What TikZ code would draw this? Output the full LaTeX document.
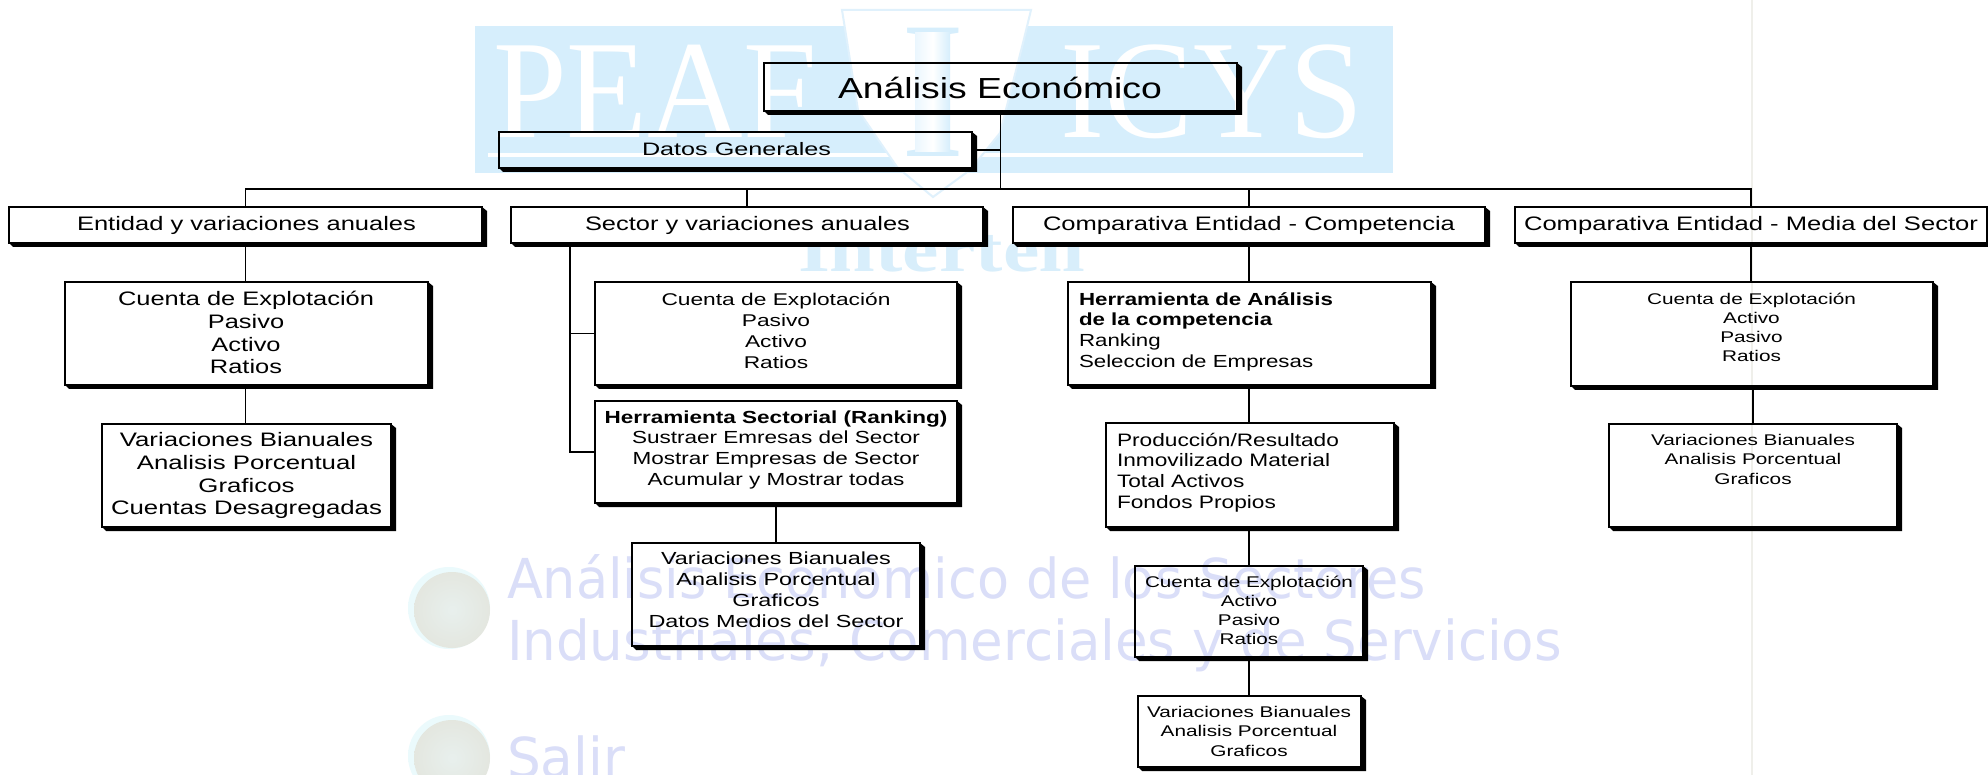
\documentclass[tikz,border=0pt]{standalone}
\usepackage{fontspec}
\usepackage{graphicx}
\setmainfont{Liberation Sans}
\newfontfamily\serifw{Liberation Serif}
\newfontfamily\dejav{DejaVu Sans}
\definecolor{wmblue}{HTML}{D6EEFC}
\definecolor{wmline}{HTML}{E0F1FC}
\definecolor{lav}{HTML}{DADEF8}
\definecolor{inter}{HTML}{D8EEFB}
\definecolor{pale}{HTML}{EFEFEA}
\definecolor{balla}{rgb}{0.91,0.94,0.93}
\definecolor{ballb}{rgb}{0.89,0.90,0.87}
\definecolor{ballc}{rgb}{0.90,0.91,0.87}
\definecolor{haloc}{rgb}{0.92,0.98,0.99}
\pgfdeclareradialshading{ball}{\pgfpoint{0bp}{0bp}}{color(0bp)=(balla); color(28bp)=(ballb); color(44bp)=(ballc); color(50bp)=(haloc)}
\pgfdeclareradialshading{halo}{\pgfpoint{0bp}{0bp}}{color(0bp)=(haloc); color(42bp)=(haloc); color(50bp)=(white)}
% text block: size lead target-width centre-x centre-y align lines (px for W, cx, cy)
\newcommand\tx[7]{\begingroup\fontsize{#1}{#2}\selectfont
 \sbox0{\begin{tabular}[c]{@{}#6@{}}#7\end{tabular}}%
 \pgfmathsetmacro\rr{#3*0.5/\the\wd0}%
 \pgfmathsetmacro\dxx{(#4-\cxx)*0.5}%
 \pgfmathsetmacro\dyy{(\cyy-#5)*0.5+(\the\dp0-\the\ht0)/2-0.17*#1}%
 \raisebox{\dyy pt}[0pt][0pt]{\makebox[0pt][c]{\hspace*{2\dimexpr\dxx pt\relax}\scalebox{\rr}[1]{\usebox0}}}%
 \endgroup}
\newcommand\fitw[2]{\sbox0{#2}\pgfmathsetmacro\rr{#1*0.5/\the\wd0}\scalebox{\rr}[1]{\usebox0}}
\newcommand\bx[6]{%
 \pgfmathsetmacro\cxx{(#2+#4)/2}\pgfmathsetmacro\cyy{(#3+#5)/2}%
 \pgfmathsetmacro\ww{(#4-#2)*0.5}\pgfmathsetmacro\hh{(#5-#3)*0.5}%
 \node[boxnode,minimum width=\ww pt,minimum height=\hh pt] (#1) at (\cxx,\cyy) {#6};
 \fill (#1.south west) -- ([shift={(4,4)}]#1.south west) -- ([shift={(5,4)}]#1.south east)
   -- ([shift={(5,4)}]#1.north east) -- (#1.north east) -- (#1.south east) -- cycle;
}
\tikzset{
 boxnode/.style={draw=black,line width=1pt,inner sep=0pt,outer sep=0pt,rectangle},
 conn/.style={draw=black,line width=0.9pt},
 busline/.style={draw=black,line width=0.7pt},
 bg/.style={inner sep=0pt,outer sep=0pt,anchor=base west},
}
\begin{document}
\begin{tikzpicture}[x=0.5pt,y=-0.5pt]
\useasboundingbox (0,0) rectangle (1988,775);
\fill[white] (0,0) rectangle (1988,775);
\fill[pale] (1751,0) rectangle (1753,775);
% logo
\fill[wmblue] (475,26) rectangle (1393,173);
\node[bg,text=white,font=\serifw\fontsize{70}{70}\selectfont] (wm1) at (493,138) {\fitw{324}{PEAF}};
\node[bg,text=white,font=\serifw\fontsize{70}{70}\selectfont] (wm2) at (1060,138) {\fitw{303}{ICYS}};
\fill[white] (488,153) rectangle (1363,157);
\filldraw[fill=white,draw=wmline,line width=1pt] (842,10) -- (1031,10) -- (1023,43) -- (1000,133) -- (970,170) -- (933,197) -- (897,167) -- (858,110) -- cycle;
\node[bg,text=wmblue,font=\serifw\fontsize{98}{98}\selectfont] (wm3) at (900,157) {I};
\shade[left color=wmblue!50!white,right color=wmblue,middle color=white] (915,33) rectangle (950,152);
\node[bg,text=inter,font=\serifw\bfseries\fontsize{32}{32}\selectfont] (wm4) at (798,272) {\fitw{287}{Intertell}};
\fill[white] (511,207) rectangle (983,243);
\fill[white] (1013,207) rectangle (1485,243);
% menu watermark
\shade[shading=halo] (449,608) circle (41);
\shade[shading=ball] (452,610) circle (38);
\shade[shading=halo] (449,756) circle (41);
\shade[shading=ball] (452,758) circle (38);
\node[bg,text=lav,font=\dejav\fontsize{27.5}{27.5}\selectfont] (wm5) at (507,598) {\fitw{919}{Análisis Económico de los Sectores}};
\node[bg,text=lav,font=\dejav\fontsize{27.5}{27.5}\selectfont] (wm6) at (507,660) {\fitw{1055}{Industriales, Comerciales y de Servicios}};
\node[bg,text=lav,font=\dejav\fontsize{27.5}{27.5}\selectfont] (wm7) at (507,777) {\fitw{118}{Salir}};
% boxes
\bx{title}{764}{63}{1237}{111}{\tx{14.5}{17}{324}{1000}{87}{c}{Análisis Económico}}
\bx{datos}{499}{132}{972}{168}{\tx{9}{11}{189}{736.5}{148}{c}{Datos Generales}}
\bx{ent}{9}{207}{482}{243}{\tx{9.75}{11}{339}{246.5}{223}{c}{Entidad y variaciones anuales}}
\bx{sec}{511}{207}{983}{243}{\tx{9.75}{11}{325}{747.5}{223}{c}{Sector y variaciones anuales}}
\bx{comp}{1013}{207}{1485}{243}{\tx{9.75}{11}{412}{1249}{223}{c}{Comparativa Entidad - Competencia}}
\bx{media}{1515}{207}{1987}{243}{\tx{9.75}{11}{454}{1751}{223}{c}{Comparativa Entidad - Media del Sector}}
\bx{ent1}{65}{282}{428}{385}{\tx{9.75}{11.35}{256}{246}{332}{c}{Cuenta de Explotación\\Pasivo\\Activo\\Ratios}}
\bx{ent2}{102}{424}{391}{527}{\tx{9.75}{11.35}{271}{246.5}{473}{c}{Variaciones Bianuales\\Analisis Porcentual\\Graficos\\Cuentas Desagregadas}}
\bx{sec1}{595}{282}{957}{385}{\tx{8.5}{10.5}{229}{776}{330}{c}{Cuenta de Explotación\\Pasivo\\Activo\\Ratios}}
\bx{sec2}{595}{401}{957}{503}{\tx{8.75}{10.35}{343}{776}{447}{c}{\textbf{Herramienta Sectorial (Ranking)}\\Sustraer Emresas del Sector\\Mostrar Empresas de Sector\\Acumular y Mostrar todas}}
\bx{sec3}{632}{543}{920}{646}{\tx{8.75}{10.5}{255}{776}{588.5}{c}{Variaciones Bianuales\\Analisis Porcentual\\Graficos\\Datos Medios del Sector}}
\bx{cmp1}{1068}{282}{1431}{385}{\tx{8.75}{10.35}{254}{1206}{329}{l}{\textbf{Herramienta de Análisis}\\\textbf{de la competencia}\\Ranking\\Seleccion de Empresas}}
\bx{cmp2}{1106}{423}{1394}{527}{\tx{9}{10.4}{222}{1228}{470}{l}{Producción/Resultado\\Inmovilizado Material\\Total Activos\\Fondos Propios}}
\bx{cmp3}{1135}{566}{1363}{657}{\tx{7.75}{9.5}{208}{1249}{610}{c}{Cuenta de Explotación\\Activo\\Pasivo\\Ratios}}
\bx{cmp4}{1138}{696}{1361}{767}{\tx{7.75}{9.75}{204}{1249}{730}{c}{Variaciones Bianuales\\Analisis Porcentual\\Graficos}}
\bx{med1}{1571}{282}{1933}{386}{\tx{7.75}{9.5}{209}{1751.5}{327}{c}{Cuenta de Explotación\\Activo\\Pasivo\\Ratios}}
\bx{med2}{1609}{424}{1897}{527}{\tx{7.75}{9.75}{204}{1753}{458}{c}{Variaciones Bianuales\\Analisis Porcentual\\Graficos}}
% connectors
\coordinate (busy) at (0,189);
\coordinate (sb) at (570,243);
\draw[conn] (title.south) -- (title.south |- busy);
\draw[conn] (datos.east) -- (title.south |- datos.east);
\draw[busline] (ent.north) -- (ent.north |- busy) -- (media.north |- busy) -- (media.north);
\draw[busline] (sec.north) -- (sec.north |- busy);
\draw[busline] (comp.north) -- (comp.north |- busy);
\draw[conn] (ent.south) -- (ent.south |- ent1.north);
\draw[conn] (ent.south |- ent1.south) -- (ent.south |- ent2.north);
\draw[conn] (sb) -- (sb |- sec2.west) -- (sec2.west);
\draw[conn] (sb |- sec1.west) -- (sec1.west);
\draw[conn] (sec2.south) -- (sec2.south |- sec3.north);
\draw[conn] (comp.south) -- (comp.south |- cmp1.north);
\draw[conn] (comp.south |- cmp1.south) -- (comp.south |- cmp2.north);
\draw[conn] (comp.south |- cmp2.south) -- (comp.south |- cmp3.north);
\draw[conn] (comp.south |- cmp3.south) -- (comp.south |- cmp4.north);
\draw[conn] (media.south) -- (media.south |- med1.north);
\draw[conn] (med2.north |- med1.south) -- (med2.north);
\end{tikzpicture}
\end{document}
